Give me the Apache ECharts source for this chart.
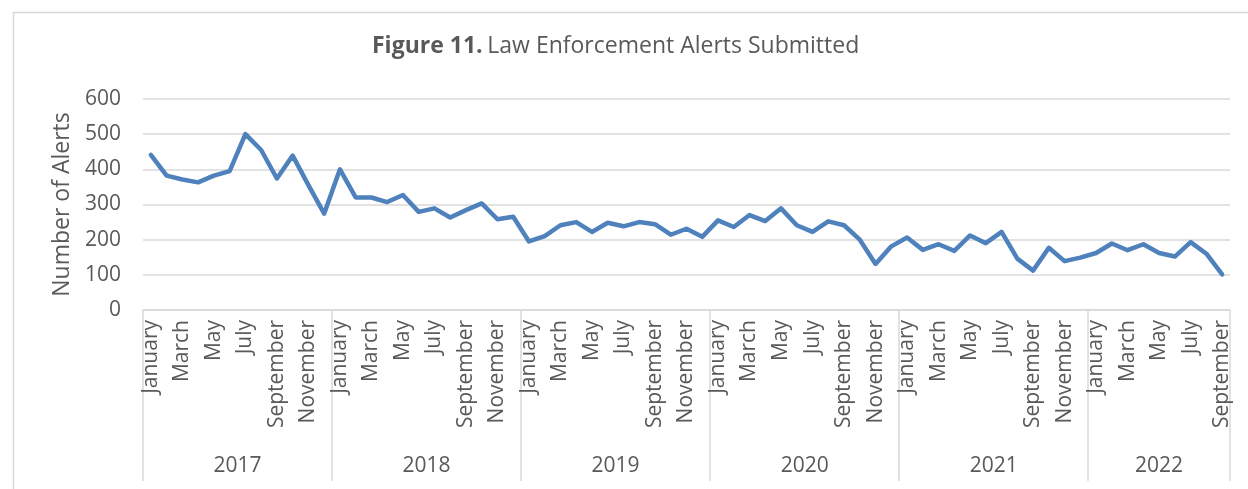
<!DOCTYPE html>
<html>
<head>
<meta charset="utf-8">
<script src="https://cdn.jsdelivr.net/npm/echarts@6/dist/echarts.min.js"></script>
<style>html,body{margin:0;padding:0;background:#fff;}#chart{width:1248px;height:489px;}</style>
</head>
<body>
<div id="chart"></div>
<script>
const monthNames = ["January","February","March","April","May","June","July","August","September","October","November","December"];
const years = ["2017","2018","2019","2020","2021","2022"];
const monthsPerYear = [12,12,12,12,12,9];
const alerts2017 = [441,382,371,363,382,395,500,455,374,439,355,274];
const alerts2018 = [400,320,320,307,327,279,289,263,284,303,258,265];
const alerts2019 = [195,210,241,250,222,248,238,250,244,214,231,208];
const alerts2020 = [255,236,270,253,289,241,222,252,241,200,131,181];
const alerts2021 = [206,171,187,168,212,190,222,146,112,177,139,149];
const alerts2022 = [162,189,170,187,162,152,193,160,101];
const yTicks = [0,100,200,300,400,500,600];

const allSeries = [alerts2017,alerts2018,alerts2019,alerts2020,alerts2021,alerts2022];
const categories = [];
const values = [];
allSeries.forEach((arr, yi) => {
  arr.forEach((v, mi) => { categories.push(monthNames[mi]); values.push(v); });
});
const total = values.length;
const boundaries = [0];
let acc = 0;
monthsPerYear.forEach(n => { acc += n; boundaries.push(acc); });
const centers = [];
for (let i = 0; i < monthsPerYear.length; i++) centers.push((boundaries[i] + boundaries[i+1]) / 2);

const textColor = '#595959';
const gridColor = '#d9d9d9';
const font = '"Open Sans", "Noto Sans", sans-serif';

const chart = echarts.init(document.getElementById('chart'), null, {renderer: 'canvas'});
chart.setOption({
  animation: false,
  backgroundColor: '#fff',
  textStyle: {fontFamily: font},
  graphic: [{
    type: 'rect', left: 11, top: 10, silent: true,
    shape: {width: 1400, height: 700},
    style: {fill: 'none', stroke: gridColor, lineWidth: 1.5}
  }],
  title: {
    text: '{b|Figure 11.} {n|Law Enforcement Alerts Submitted}',
    left: 367, top: 30,
    textStyle: {
      rich: {
        b: {fontFamily: font, fontWeight: 'bold', fontSize: 23, color: textColor},
        n: {fontFamily: font, fontWeight: 'normal', fontSize: 23, color: textColor}
      }
    }
  },
  grid: {left: 143, right: 18, top: 99, bottom: 179, containLabel: false},
  xAxis: [{
    type: 'category',
    data: categories,
    boundaryGap: true,
    position: 'bottom',
    axisLine: {show: true, lineStyle: {color: gridColor, width: 1.5}},
    axisTick: {show: false},
    axisLabel: {interval: 1, rotate: 90, margin: 10, fontSize: 21, color: textColor, fontFamily: font},
    splitLine: {show: false}
  }, {
    type: 'value',
    min: 0, max: total,
    position: 'bottom',
    axisLine: {show: false},
    axisTick: {show: true, customValues: boundaries, length: 171, inside: false,
               lineStyle: {color: gridColor, width: 1.5}},
    axisLabel: {customValues: centers, margin: 146, fontSize: 21, color: textColor, fontFamily: font,
                formatter: v => years[Math.min(years.length - 1, Math.floor(v / 12))]},
    splitLine: {show: false}
  }],
  yAxis: {
    type: 'value',
    min: yTicks[0], max: yTicks[yTicks.length - 1], interval: 100,
    name: 'Number of Alerts',
    nameLocation: 'middle',
    nameGap: 67,
    nameTextStyle: {fontSize: 23, color: textColor, fontFamily: font},
    axisLine: {show: false},
    axisTick: {show: false},
    axisLabel: {margin: 22, fontSize: 21, color: textColor, fontFamily: font},
    splitLine: {show: true, lineStyle: {color: gridColor, width: 1.5}}
  },
  series: [{
    type: 'line',
    xAxisIndex: 0,
    data: values,
    showSymbol: false,
    symbol: 'none',
    lineStyle: {color: '#4f81bd', width: 4.5, join: 'round', cap: 'round'},
    itemStyle: {color: '#4f81bd'}
  }]
});
</script>
</body>
</html>
